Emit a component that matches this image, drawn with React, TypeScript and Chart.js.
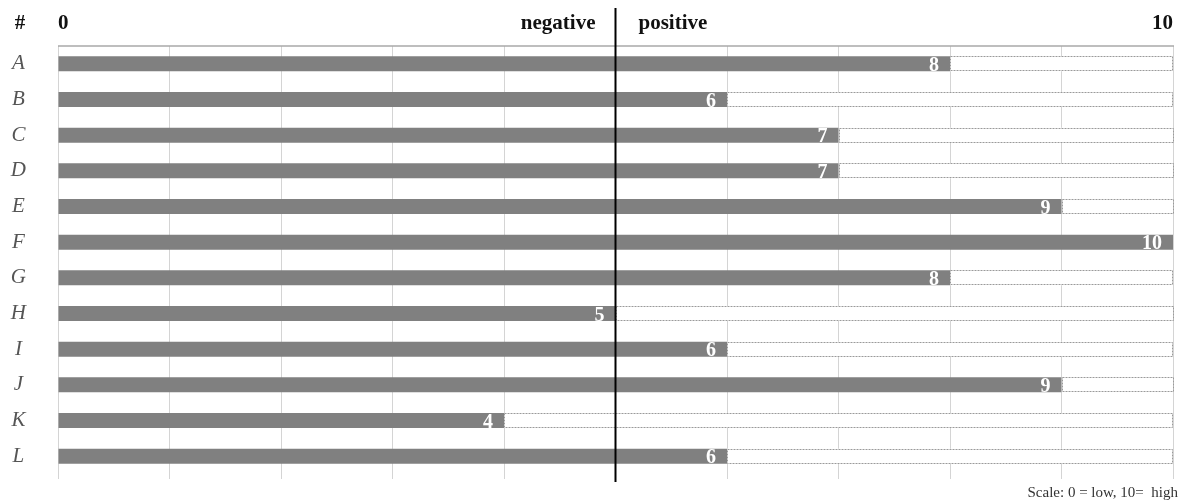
import React, { useEffect, useRef } from "react";
import { Chart, registerables } from "chart.js";

Chart.register(...registerables);

const categories = ["A", "B", "C", "D", "E", "F", "G", "H", "I", "J", "K", "L"];
const values = [8, 6, 7, 7, 9, 10, 8, 5, 6, 9, 4, 6];
const scaleMin = 0;
const scaleMax = 10;
const midValue = 5;
const headerLabels = { hash: "#", low: "0", negative: "negative", positive: "positive", high: "10" };
const footnote = "Scale: 0 = low, 10=  high";

const SERIF = "'Liberation Serif', 'Times New Roman', serif";

const decorPlugin = {
  id: "decor",
  afterDatasetsDraw(chart: any) {
    const ctx = chart.ctx;
    const xs = chart.scales.x;
    const area = chart.chartArea;
    ctx.save();

    // dotted outline of remainder bars
    const remMeta = chart.getDatasetMeta(1);
    ctx.strokeStyle = "#9a9a9a";
    ctx.lineWidth = 1;
    ctx.setLineDash([2, 1]);
    remMeta.data.forEach((el: any) => {
      const x0 = Math.min(el.base, el.x);
      const x1 = Math.max(el.base, el.x);
      if (x1 - x0 < 0.5) return;
      const top = el.y - el.height / 2;
      ctx.strokeRect(Math.round(x0) + 0.5, Math.round(top) + 0.5, Math.round(x1 - x0) - 1, Math.round(el.height) - 1);
    });
    ctx.setLineDash([]);

    // value labels
    const meta = chart.getDatasetMeta(0);
    ctx.fillStyle = "#ffffff";
    ctx.font = `bold 20px ${SERIF}`;
    ctx.textAlign = "right";
    ctx.textBaseline = "middle";
    meta.data.forEach((el: any, i: number) => {
      ctx.fillText(String(values[i]), el.x - 11, el.y + 2);
    });

    // top border line
    ctx.strokeStyle = "#a8a8a8";
    ctx.lineWidth = 1.5;
    ctx.beginPath();
    ctx.moveTo(xs.getPixelForValue(scaleMin), area.top);
    ctx.lineTo(xs.getPixelForValue(scaleMax) + 1, area.top);
    ctx.stroke();

    // midline
    const mx = xs.getPixelForValue(midValue);
    ctx.strokeStyle = "#000000";
    ctx.lineWidth = 2;
    ctx.beginPath();
    ctx.moveTo(mx, 8);
    ctx.lineTo(mx, area.bottom + 8);
    ctx.stroke();

    // header
    ctx.fillStyle = "#111111";
    ctx.font = `bold 21px ${SERIF}`;
    ctx.textBaseline = "alphabetic";
    const hy = 29;
    ctx.textAlign = "center";
    ctx.fillText(headerLabels.hash, 20, hy);
    ctx.textAlign = "left";
    ctx.fillText(headerLabels.low, xs.getPixelForValue(scaleMin), hy);
    ctx.textAlign = "right";
    ctx.fillText(headerLabels.negative, mx - 20, hy);
    ctx.textAlign = "left";
    ctx.fillText(headerLabels.positive, mx + 23, hy);
    ctx.textAlign = "right";
    ctx.fillText(headerLabels.high, xs.getPixelForValue(scaleMax), hy);

    // footnote
    ctx.fillStyle = "#333333";
    ctx.font = `15px ${SERIF}`;
    ctx.textAlign = "right";
    ctx.fillText(footnote, 1178, 497);

    ctx.restore();
  },
};

export default function App() {
  const ref = useRef<HTMLCanvasElement>(null);
  useEffect(() => {
    if (!ref.current) return;
    const chart = new Chart(ref.current, {
      type: "bar",
      data: {
        labels: categories,
        datasets: [
          {
            data: values,
            backgroundColor: "#808080",
            borderWidth: 0,
            barPercentage: 0.42,
            categoryPercentage: 1,
          },
          {
            data: values.map((v) => scaleMax - v),
            backgroundColor: "#ffffff",
            borderWidth: 0,
            barPercentage: 0.42,
            categoryPercentage: 1,
          },
        ],
      },
      options: {
        indexAxis: "y",
        responsive: false,
        animation: false,
        devicePixelRatio: 1,
        layout: { padding: { top: 46, right: 14, bottom: 23, left: 0 } },
        plugins: { legend: { display: false }, tooltip: { enabled: false }, title: { display: false } },
        scales: {
          x: {
            stacked: true,
            min: scaleMin,
            max: scaleMax,
            ticks: { display: false, stepSize: 1 },
            grid: { color: "#d4d4d4", lineWidth: 1, drawTicks: true, tickLength: 5 },
            border: { display: false },
          },
          y: {
            stacked: true,
            grid: { display: false, drawTicks: false },
            border: { display: false },
            ticks: {
              crossAlign: "center",
              padding: 32,
              color: "#555555",
              font: { family: SERIF, size: 21, style: "italic" },
            },
            afterFit: (scale: any) => {
              scale.width = 58;
              scale.paddingTop = 0;
              scale.paddingBottom = 0;
            },
          },
        },
      } as any,
      plugins: [decorPlugin],
    });
    return () => chart.destroy();
  }, []);
  return (
    <div style={{ position: "absolute", left: 0, top: 0, width: 1187, height: 502, background: "#fff" }}>
      <canvas ref={ref} width={1187} height={502} style={{ width: 1187, height: 502 }} />
    </div>
  );
}
